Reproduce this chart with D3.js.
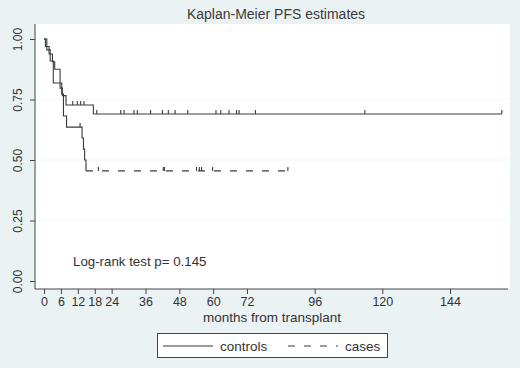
<!DOCTYPE html>
<html>
<head>
<meta charset="utf-8">
<script src="https://cdn.jsdelivr.net/npm/d3@7"></script>
<style>
  body { margin: 0; background: #eaf2f4; }
  svg { display: block; font-family: "Liberation Sans", Arial, sans-serif; }
</style>
</head>
<body>
<div id="chart"></div>
<script>
const width = 520, height = 368;

// step changes (months, survival after the step)
const controlsTimes = [0, 0.5, 1.8, 3.0, 3.8, 5.7, 6.5, 7.8, 17.5];
const controlsSurv = [1.0, 0.969, 0.938, 0.906, 0.875, 0.797, 0.766, 0.727, 0.69];
const controlsEnd = 162.4;
const controlsCensor = [10.2, 11.8, 13.0, 14.2, 18.7, 27.2, 28.4, 31.9, 33.1, 37.8, 42.0, 44.1, 46.5, 51.0,
  61.0, 62.7, 65.6, 68.3, 69.2, 75.0, 113.8, 162.4];

const casesTimes = [0, 1.0, 2.2, 3.3, 6.3, 6.9, 8.0, 13.5, 14.0, 14.4, 14.9];
const casesSurv = [1.0, 0.955, 0.909, 0.818, 0.773, 0.682, 0.636, 0.591, 0.545, 0.5, 0.455];
const casesEnd = 86.5;
const casesCensor = [12.8, 19.3, 42.3, 42.7, 54.1, 55.1, 55.9, 59.8, 86.5];

const xTicks = [0, 6, 12, 18, 24, 36, 48, 60, 72, 96, 120, 144];
const yTicks = [0, 0.25, 0.5, 0.75, 1];

const plot = { left: 35, right: 510, top: 24, bottom: 289 };

const x = d3.scaleLinear().domain([0, 144]).range([44, 450]);
const y = d3.scaleLinear().domain([0, 1]).range([281, 39]);

const svg = d3.select("#chart").append("svg")
  .attr("width", width)
  .attr("height", height);

svg.append("rect").attr("width", width).attr("height", height).attr("fill", "#eaf2f4");
svg.append("rect")
  .attr("x", plot.left).attr("y", plot.top)
  .attr("width", plot.right - plot.left).attr("height", plot.bottom - plot.top)
  .attr("fill", "#fff");

// faint grid
svg.append("g").selectAll("line")
  .data(yTicks.filter(d => d > 0 && d < 1))
  .enter().append("line")
  .attr("x1", plot.left).attr("x2", plot.right)
  .attr("y1", d => y(d)).attr("y2", d => y(d))
  .attr("stroke", "#f3f6f7").attr("stroke-width", 1);

svg.append("text")
  .attr("x", 276).attr("y", 19)
  .attr("text-anchor", "middle")
  .attr("font-size", 14).attr("fill", "#3a3a3a")
  .text("Kaplan-Meier PFS estimates");

// axes
const axisColor = "#444";
const xAxis = svg.append("g")
  .attr("transform", `translate(0,${plot.bottom})`)
  .call(d3.axisBottom(x).tickValues(xTicks).tickSize(5).tickPadding(3).tickFormat(d3.format("d")));
xAxis.select(".domain").remove();
xAxis.append("line").attr("x1", plot.left).attr("x2", plot.right - 2).attr("stroke", axisColor);
xAxis.selectAll(".tick line").attr("stroke", axisColor);
xAxis.selectAll(".tick text").attr("font-size", 12.5).attr("fill", "#333").attr("font-family", null);

const yAxis = svg.append("g")
  .attr("transform", `translate(${plot.left},0)`)
  .call(d3.axisLeft(y).tickValues(yTicks).tickSize(5).tickFormat(d3.format(".2f")));
yAxis.select(".domain").remove();
yAxis.append("line").attr("y1", plot.top).attr("y2", plot.bottom).attr("stroke", axisColor);
yAxis.selectAll(".tick line").attr("stroke", axisColor);
yAxis.selectAll(".tick text")
  .attr("font-size", 12).attr("fill", "#333").attr("font-family", null)
  .attr("text-anchor", "middle")
  .attr("x", 0).attr("dy", null)
  .attr("transform", "translate(-17,0) rotate(-90)")
  .attr("dominant-baseline", "central");

svg.append("text")
  .attr("x", 272).attr("y", 322)
  .attr("text-anchor", "middle")
  .attr("font-size", 13.5).attr("fill", "#333")
  .text("months from transplant");

// curves
const line = d3.line().x(d => x(d[0])).y(d => y(d[1])).curve(d3.curveStepAfter);
const lineColor = "#3a3a3a";

function drawCurve(times, surv, end, censor, dash) {
  const pts = times.map((t, i) => [t, surv[i]]);
  const last = pts[pts.length - 1];
  // the steps themselves read as solid in the reference; the dash shows on the long tail
  svg.append("path")
    .attr("d", line(pts))
    .attr("fill", "none")
    .attr("stroke", lineColor)
    .attr("stroke-width", 1.1);
  svg.append("path")
    .attr("d", line([last, [end, last[1]]]))
    .attr("fill", "none")
    .attr("stroke", lineColor)
    .attr("stroke-width", 1.1)
    .attr("stroke-dasharray", dash);
  const survAt = t => {
    let s = surv[0];
    times.forEach((tt, i) => { if (tt <= t) s = surv[i]; });
    return s;
  };
  svg.append("g").selectAll("line")
    .data(censor)
    .enter().append("line")
    .attr("x1", d => x(d)).attr("x2", d => x(d))
    .attr("y1", d => y(survAt(d))).attr("y2", d => y(survAt(d)) - 4)
    .attr("stroke", lineColor).attr("stroke-width", 1.1);
}

drawCurve(controlsTimes, controlsSurv, controlsEnd, controlsCensor, null);
drawCurve(casesTimes, casesSurv, casesEnd, casesCensor, "7,9");

svg.append("text")
  .attr("x", 73).attr("y", 266)
  .attr("font-size", 13.3).attr("fill", "#333")
  .text("Log-rank test p= 0.145");

// legend
const legend = svg.append("g");
legend.append("rect")
  .attr("x", 157.5).attr("y", 333.5).attr("width", 230).attr("height", 24)
  .attr("fill", "#fff").attr("stroke", "#444");
legend.append("line").attr("x1", 163).attr("x2", 213).attr("y1", 346).attr("y2", 346)
  .attr("stroke", lineColor);
legend.append("text").attr("x", 220).attr("y", 350.5).attr("font-size", 13.5).attr("fill", "#333").text("controls");
legend.append("line").attr("x1", 288).attr("x2", 338).attr("y1", 346).attr("y2", 346)
  .attr("stroke", lineColor).attr("stroke-dasharray", "7,9");
legend.append("text").attr("x", 345).attr("y", 350.5).attr("font-size", 13.5).attr("fill", "#333").text("cases");
</script>
</body>
</html>
